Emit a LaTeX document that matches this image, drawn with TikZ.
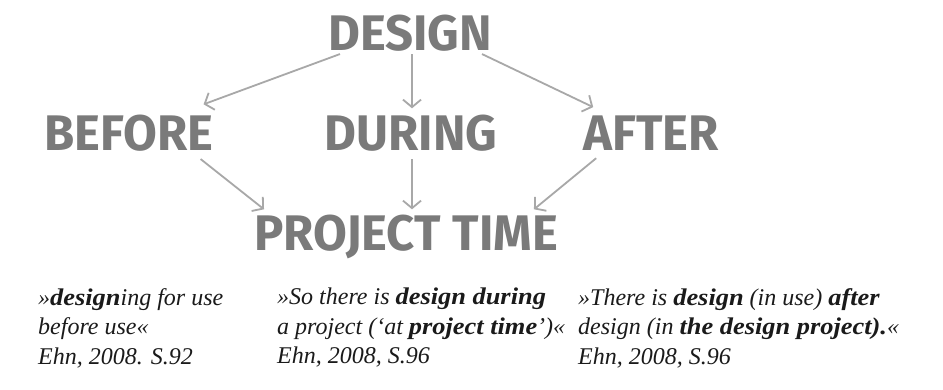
\documentclass[tikz,border=0pt]{standalone}
\usepackage{fontspec}
\setmainfont{Liberation Serif}[BoldItalicFeatures={FakeStretch=1.1}]
\newfontfamily\headfont{Fira Sans}[FakeStretch=0.98]
\usetikzlibrary{arrows.meta,calc}
\definecolor{headgray}{HTML}{7A7A7A}
\definecolor{arrowgray}{HTML}{A8A8A8}
\definecolor{quoteink}{HTML}{1A1A1A}
\tikzset{
  head/.style={inner sep=0pt, anchor=base, text=headgray,
    font=\headfont\bfseries\fontsize{50}{50}\selectfont},
  link/.style={draw=arrowgray, line width=1.8pt,
    -{Straight Barb[length=7.5pt,width=18pt,line width=1.8pt]}},
  quote/.style={inner sep=0pt, anchor=north west, align=left, text=quoteink,
    font=\fontsize{24}{29.5}\selectfont\itshape}
}
\begin{document}
\begin{tikzpicture}[x=1pt,y=1pt]
\useasboundingbox[fill=white] (0,0) rectangle (943,-389);
\node[head] (design) at (410,-50) {DESIGN};
\node[head] (before) at (129,-150) {BEFORE};
\node[head] (during) at (411,-150) {DURING};
\node[head] (after)  at (651,-150) {AFTER};
\node[head] (project) at (406,-250) {PROJECT TIME};

\draw[link] ($(design.south west)+(12,-3)$) -- ($(before.north east)+(-10,10)$);
\draw[link] ($(design.south)+(2,-3)$) -- ($(during.north)+(1,6)$);
\draw[link] ($(design.south east)+(-10,-3)$) -- ($(after.north west)+(10,8)$);
\draw[link] ($(before.south east)+(-13,-8)$) -- ($(project.north west)+(10,5)$);
\draw[link] ($(during.south)+(1,-8)$) -- ($(project.north)+(6,5)$);
\draw[link] ($(after.south west)+(13,-8)$) -- ($(project.north east)+(-24,5)$);

\node[quote] (q1) at (38,-288) {»\textbf{design}ing for use\\before use«\\Ehn, 2008. S.92};
\node[quote] (q2) at (277,-288) {»So there is \textbf{design during}\\a project (‘at \textbf{project time}’)«\\Ehn, 2008, S.96};
\node[quote] (q3) at (578,-288) {»There is \textbf{design} (in use) \textbf{after}\\design (in \textbf{the design project).}«\\Ehn, 2008, S.96};
\end{tikzpicture}
\end{document}
